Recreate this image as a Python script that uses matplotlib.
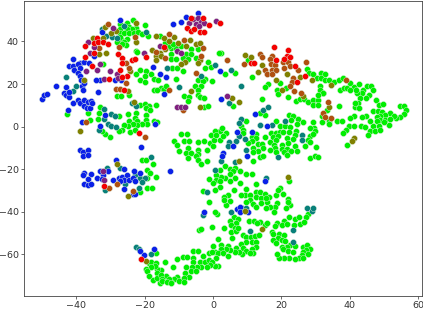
import matplotlib
matplotlib.use('Agg')
import numpy as np
import matplotlib.pyplot as plt

# t-SNE points, one list per colour
green = [(-42.6,6.1),(-36.7,6.4),(-33,9.3),(-33.3,6.4),(-36.1,3.3),(-33.7,3.8),(-27.4,4.9),(-24.9,6),(-22.6,6.4),(-22.8,3.9),(-24.6,2.8),(-22.3,2.7),(-21.4,10.4),(-20,10.8),(-18.7,9.9),(-16.7,10.4),(-19.5,8.8),(-18.5,7.7),(-19.5,5.6),(-19.5,3.3),(-17.3,2.8),(-16.3,2.4),(-19.2,1.3),(-20.8,1.1),(-22.2,0.8),(-23.4,1.3),(-25,0.5),(-26,1),(-26.6,-1.7),(-27.5,-2.2),(-24.3,-2.7),(-22.8,-1.7),(-30.2,-4.9),(-31.5,-3.6),(-32.4,-2.2),
    (-23.4,50),(-25.1,48.5),(-27.1,48),(-24.6,46.9),(-19.9,47.7),(-22.6,46.4),(-23.8,45.7),(-25.1,45.7),(-27.1,46),(-27.3,44.1),(-25.9,44.1),(-24.6,44.1),(-23.1,44.1),(-22,44.4),(-20.8,43.6),(-18.9,42.5),(-26.9,41),(-25.1,41),(-27.1,42.2),(-26,39.7),(-25.3,38.3),(-28,39.9),(-26.6,38.6),
    (-21.2,26.5),(-22.6,24.5),(-19.5,26),(-18.2,24.5),(-20,23.7),(-21.4,22.1),(-19.9,21),(-17.3,22.6),(-16.1,22.1),(-12,27.6),(-10.4,27.6),(-8.9,26),(-10.9,22.6),(-17.3,17.4),(-15.3,18.2),(-14.3,17.7),(-13.8,19.3),(-16.3,17),(-28,14.3),(-26.9,14.3),(-24.6,14.8),(-32.2,29.5),(-22.6,35.5),(-22.1,35),
    (-12.2,36.7),(-10.9,37),(-9.4,37.8),(-12.8,37.8),(-11.7,38.9),(-14.1,39.4),(-15.5,42.5),(-6.5,36.3),(-4.5,36.3),(-12.3,33.9),(-7.9,33.9),(-6.5,33.9),(-12.3,31.6),(-10.9,31.9),(-8.9,32.3),(-7.4,31.6),(-5,32.3),(-1.3,30.5),(-2.4,27.6),(-0.6,27.9),(-4.5,22.1),(-2.4,22.5),(-0.3,21.4),(-3,21.4),(-3.5,19.3),(-5.2,19),(-4.5,17.1),(-8.4,14.3),(-7,14),(-7.4,11.9),(-4.5,15.1),(-3.8,14),(-2.5,13.5),(-2.5,9.1),(-1.4,9.7),
    (-9.4,-3.5),(-11.4,-6.9),(-7.6,-3.5),(-0.6,-3.8),(-10.4,-8.5),(-8.4,-6.9),(-7,-6.9),(-4.5,-7.4),(-2.5,-6.9),(-1,-7.7),(-9.8,-11.6),(-7.4,-10),(-4.5,-10.8),(-1.6,-10.8),(-0.1,-9.3),(-7.9,-12.4),(-6.4,-12.4),(-4.5,-12.7),
    (2.3,34.7),(1.8,34.7),(3.4,24.8),(6.4,25),(11.3,23.4),(10.3,31.2),(19.7,20.6),(16.2,20.1),(15.2,18.5),(18.8,17.4),(21.3,18.2),(19.1,15.5),(22,14),(24.3,12.2),(25.5,13.2),(26.7,13),(27.9,11.5),(29.4,12.7),(30.9,12.7),(32.3,15.9),(29.4,10.4),(30.9,10.4),(14.4,13),(27.6,27.2),(28.2,25.3),(29.2,24.6),(30.4,22.9),(31.6,25),(32.8,24.5),(31.6,22.9),(32.8,22.1),(33.9,22.1),(35.5,21),(37,21.7),(38.2,22.9),(31.4,19.3),(31.4,17.4),(32.1,15.9),(30.9,15.1),(33.3,8),(34,2.5),(34,1.4),(31.9,4.9),(32,2),(29.4,2),(36.3,2.5),(37.8,2.5),(36.9,9.9),(37.2,17.1),(38.4,18.2),(39.2,18.2),(40.2,20.3),(41.2,18.7),(42.9,19.8),(43.9,17.4),(45.1,19.3),(46.3,19.3),(46.8,17.1),(45.6,15.1),(44.9,13.5),(43.6,15.9),(42.1,15.9),(41.9,17.4),(40.2,17.4),(43.1,13.5),(47.7,12.4),(48.5,10.4),(49.7,10.7),(41.5,9.3),(42.6,11.1),(41.7,11.1),(42.8,8.8),(46.8,7.2),(48.2,7.2),(49.5,6.9),(51.9,6.4),(54.9,9.9),(55.9,9.9),(56.6,7.7),(55.9,6),(54.9,4.6),(53.7,4.1),(52.9,5.2),(50.5,5.7),(49,4.9),(48,4.6),(49,3.3),(50.5,3.3),(51.9,3.6),(51.5,0.9),(48,2.5),(47,0.5),(48.5,0.2),(50,2),(46.1,2.5),(44.9,4.9),(43.5,4.6),(41.4,5.2),(40,4.1),(39.7,0.2),(39,-1.4),(38.2,-3),(41.2,0.5),(43.4,0.2),(44.6,-0.2),(46.1,-2.2),(45.3,-3.8),(47.5,-2.2),(48.8,-1.4),(39.2,-8.5),
    (9.8,2.5),(8.3,0.2),(8.8,-1.4),(8.8,-3),(12.7,-3.3),(11.5,-4.9),(15.2,-4.9),(18.6,2.5),(19.6,0.2),(21.1,0.5),(22.3,5.7),(23.5,4.9),(25,3.6),(26.5,2),(23,3),(24.5,1.4),(29.6,-0.6),(28.4,-0.6),(22.5,-0.2),(24.3,-2.2),(16.9,-3),(18.6,-3),(19.6,-2.7),(17.6,-4.9),(20.6,-2.7),(22.3,-2.7),(24,-3.8),(28.4,-4.6),(29.9,-2.2),(29.4,-3.5),(19.1,-4.6),(21.8,-5.3),(23.3,-5.8),(27.9,-6.1),(16.7,-7.4),(18.6,-6.1),(12.7,-5.3),(11.3,-6.9),(10.3,-7.7),(11.8,-10),(13.2,-8),(14.5,-8),(14.7,-10),(13.2,-11.6),(11.8,-12.1),(17.9,-8.8),(20.1,-8.5),(22,-7.7),(24,-9.3),(27,-9.3),(28.4,-7.4),(30.2,-9.6),(20.1,-10.4),(21.6,-10.4),(18.1,-10),(23,-11.6),(16.7,-11.1),(18.6,-12.1),(20.8,-12.1),(24.5,-11.6),(5.9,9.6),(15.2,5.7),(13.7,6.4),(2,-2.2),(3.7,-3),(0.5,-2.2),(2.7,-0.6),(0.3,-6.1),(2,-6.1),(2.9,-4.6),(1,-3.8),
    (13.7,-14.3),(14.7,-14),(21.6,-13.2),(28.4,-14.8),(29.9,-14),(30.7,-14.4),(11.8,-16.3),(2,-20.2),(3.4,-18.7),(4.9,-19.8),(6.4,-19.5),(7.8,-21),(5.9,-21),(4.9,-22.3),(9.8,-22.3),(11.3,-22.1),(22.3,-25.7),(12.7,-26.8),(7.8,-26.5),(6.4,-24.2),(3.4,-24.2),(2.5,-23.4),(1,-22.6),(1,-25),(2,-25.7),(4.9,-25.4),(0,-26.5),(2,-28.1),(0.5,-29.7),(6.1,-29.7),(4.4,-32),(9.8,-29.4),(9.3,-32),(8.3,-32),(10.8,-32),(12.5,-30.9),(13.9,-30.8),(15.2,-31.7),(16.5,-32.8),(18.4,-32.3),(19.6,-28.6),(19.1,-29.7),(20.6,-31.7),(12.7,-32.8),(14.2,-33.3),(15.7,-35.2),(15.5,-33.3),(14.2,-36),(10.8,-34.4),(11.6,-36.4),(12.5,-37.8),(9.8,-35.2),(3.1,-33.1),(5.1,-34.7),(3.7,-36.7),(3.2,-34.4),(22,-34),(22.7,-37),(22,-35.2),(21.4,-38.3),(18.8,-36),(18.1,-37.5),(16.7,-37.5),(15.5,-38),(17.9,-40.2),(1.2,-41.1),(0.5,-40.2),(24,-43.5),(25.2,-42.2),(27.9,-41.1),(27.2,-42.5),(22.3,-42.4),(20.9,-44.1),(18.8,-45.4),(18.1,-46.5),(20.1,-46.1),(21.6,-45.8),(23.8,-46.1),(25.5,-45.7),(26.7,-44.6),(6.1,-42.5),(7.4,-43.3),(4.9,-44.1),(6.9,-45.4),(10.5,-44.3),(12,-44.1),(13.9,-44.6),(13,-45.4),(15.2,-46.1),(15.7,-45.4),(3.1,-47.4),(5.4,-46.1),(6.4,-47.7),(5.4,-49.3),(6.9,-49),(7.4,-47.4),(5.7,-52.1),(8.8,-50.9),(9.8,-52),(11.1,-51.6),(12.3,-51.3),(13.5,-50.9),(9.8,-54.3),(11.3,-54.3),(12.7,-54.3),(12.7,-56.4),(1.5,-52.7),(0,-55.9),(2.5,-55.6),(4.4,-55.9),(6.7,-56.8),(8.3,-55.3),(8.8,-57.1),(9.8,-58.2),(11.3,-57.5),(11.8,-59.2),(10.8,-59.5),(8.6,-60),(7.6,-58.7),(6.4,-58.7),(4.9,-57.9),(3.9,-57.6),(2.5,-57.6),(0.5,-58.7),(1.5,-59.5),(2.9,-59.5),(4.4,-60.6),(0.8,-61.8),(1.5,-65.3),(0.5,-65.5),(17.2,-49.6),(17.6,-50.4),(19.4,-50.4),(20.8,-50.9),(19.1,-52.4),(17.6,-53.2),(20.1,-53.2),(18.6,-54.8),(21.1,-53.7),(22.5,-55.6),(24,-55.9),(21.6,-56.4),(20.1,-56.4),(20.6,-57.5),(22,-58.4),(23.5,-59),(26.3,-56.4),(27.6,-55.6),(28.4,-57.6),(27.2,-57.9),(26.3,-58.7),(27.9,-59.8),(26,-60.3),(25.3,-61.8),(24,-62.3),(26.5,-61.5),(22.3,-61.5),(20.8,-61.5),(19.3,-61.5),(18.8,-59.8),
    (-19.2,-20.2),(-16.8,-23.4),(-19.2,-23.9),(-18.5,-21.8),(-17.5,-17.6),(-21.4,-30.5),(-19.2,-28.6),(-17.8,-28.6),(-7.3,-14.7),(-5,-13.7),(-4.3,-15.5),(-3.5,-17.4),(-1.8,-16),(-1.1,-24.6),(-2.8,-30.1),(-1.1,-35.6),(-0.4,-46.9),(-4.2,-48.5),(-3.5,-48),(-16.6,-59.2),(-18.7,-64.2),(-18.2,-63.4),(-16.8,-64.2),(-14.1,-63.7),(-10.4,-62.3),(-8.9,-61.4),(-7.6,-61.4),(-5.8,-58.4),(-4.5,-58.4),(-3,-60.6),(-1.1,-59.2),(-0.3,-58.7),(-11.7,-66.1),(-8,-65.8),(-5.7,-61.8),(-5.7,-63.7),(-3.7,-63.7),(-2.4,-63.4),(-1.1,-62.6),(-0.4,-63.4),(-0.8,-65),(-1.8,-65.8),(-3.5,-65.8),(-4.7,-65.8),(-6,-66.1),(-6.3,-67.7),(-8.2,-68.9),(-5,-67.7),(-7,-70.5),(-8.4,-71),(-10.4,-70.5),(-11.4,-71.6),(-12.4,-72.8),(-9.9,-72.5),(-8.6,-72.8),(-13.8,-70),(-12.8,-71.3),(-15.3,-67.3),(-16.3,-66.6),(-17,-65.3),(-18.2,-65.8),(-19.7,-66.9),(-19.2,-67.8),(-18.7,-70),(-17.6,-72),(-16.3,-68.9),(-16.3,-71),(-15.3,-69.7),(-15,-71.3),(-15.6,-73.6),(-14.8,-72.5),(-13.5,-72.8),(-12.2,-73.3),(-20.9,-15.8),(-19.7,-15.5)]

teal = [(-41,16.6),(-40,19),(-43,23.4),(-31.9,8.2),(-29.8,6.1),(-28.7,4.9),(-32,3.6),(-33.4,-1.7),(-30.8,1.3),(-29.7,0.5),(-28.5,-0.3),(-23.8,11.1),(-22.6,9.9),(-25.9,47.2),(-19.7,44.6),(-31.2,42.5),(-29.5,42.1),(-28.2,41.8),(-32.4,46),(-13.4,27.5),(-3.5,23.7),(-9.9,18.7),(0.5,28.9),(5.2,26.4),(8.3,19.3),(4.7,11.1),(14.7,8),(16,9.3),(8.3,3.6),(7.6,1.7),(7.6,-4.6),(9.3,-5.7),(13.9,0.9),(17.4,0.9),(21.1,2.5),(26,-3.8),(26,-6.1),(4.7,-7.4),(4.4,-9.3),(6.9,-6.8),(9.8,-10.8),(2.5,-16),(6.4,-16.6),(19.1,-14.3),(0.5,-20.2),(15.5,-23.9),(8.6,-38),(9.8,-38.3),(5.4,-40.2),(27.4,-38.3),(28.9,-39.4),(29.2,-38.3),(23.3,-48.5),(10.8,-49),(23.3,-54.3),(-31,-19.5),(-27.1,-19.5),(-31.5,-29.5),(-25.6,-27),(-22.8,-22.6),(-21.2,-23.9),(-20,-23.9),(-21.7,-28.6),(-18.2,-14.4),(-1.6,-30.5),(-3,-41.6),(-22.4,-56.7),(-18,-60),(-21.7,-57.5),(-20.7,-26)]

blue = [(-49.9,13),(-49.3,14.8),(-48.7,15.4),(-45.9,19),(-43.1,18.4),(-43.7,16),(-43,15.1),(-42,14.1),(-42,16.2),(-38.3,19.3),(-38.1,17.4),(-33.6,16.5),(-41,11.1),(-39.6,12.7),(-38.8,11.1),(-37.6,12.7),(-36.7,11.5),(-35.7,11.9),(-42.5,7.9),(-37.8,9.9),(-36.9,8.6),(-35.9,8.8),(-35.4,11.1),(-38.3,2.4),(-33,0.2),(-31.5,5.7),(-17,1.4),(-21,-9.6),(-41.1,31.9),(-38.8,30),(-37.6,30.3),(-36.4,30),(-34.9,33.1),(-42.2,28.4),(-41.1,28.4),(-39.6,29.2),(-38.8,27.6),(-40.6,26.5),(-39.6,25.3),(-38.8,23.7),(-38.5,21.7),(-37.8,20.6),(-33,22.1),(-34.1,21.7),(-28.7,22.1),(-26.9,21.8),(-32.6,44.6),(-27.2,49.9),(-17.6,27.8),(-15.5,24.6),(-13.6,23.4),(-14.3,15.4),(-11.7,48),(-9.4,49.1),(-7.9,51.5),(-4.5,53.2),(2,26.2),(2.5,13),(12.4,6),(7,-2.7),(11.5,-2.5),(15.7,0.5),(5.9,-9.3),(2.9,-12.4),(2.6,-13.6),(10.1,-13.6),(15.2,-25.4),(7.1,-38.8),(8,-37.5),(7.8,-39.9),(10.3,-39.9),(-38.8,-10.8),(-38,-12.1),(-36.7,-11.1),(-38,-14),(-36.7,-13.2),(-28.5,-15.7),(-37.8,-21.8),(-35.6,-22.1),(-38,-22.6),(-33.9,-23.9),(-32.2,-22.9),(-36.7,-24.6),(-37.8,-27),(-36.7,-27.3),(-35.7,-27),(-32.5,-24.5),(-33,-21),(-30.8,-21),(-29.2,-25),(-27.6,-23.9),(-26.6,-23.4),(-25.1,-22.6),(-26.1,-25),(-24.6,-25),(-27.1,-25.7),(-25.9,-19.8),(-23.1,-21),(-23.4,-24.2),(-22.7,-25.7),(-21.2,-21.8),(-26.1,-29.4),(-23.4,-31.7),(-22.7,-31.7),(-12.6,-20.6),(-2.6,-39.9),(-21.2,-58.4),(-17.3,-57.6),(-20.2,-60.3)]

red = [(-33.9,41.4),(-34.9,39.4),(-33.6,39.7),(-32.1,39.7),(-30.6,38.6),(-37.3,38.1),(-34.7,34.7),(-37.3,32.8),(-35.4,28.4),(-27.8,33.9),(-26.6,32.3),(-26.6,30),(-23.6,31.1),(-22.7,31.6),(-27.1,26.5),(-25.1,23.7),(-26.6,23.2),(-30.4,22.5),(-25.9,17.4),(-19.5,32.8),(-14.3,37.5),(-21.7,-2.8),(-6.5,51.2),(-7.6,46.2),(-6.5,44.9),(-5.5,45.7),(-3.8,44.3),(-2.6,44.3),(-1.1,47.6),(-3,51.2),(2,48.8),(11,29.7),(12.1,29.8),(18,37.2),(22,35.9),(18.6,31.1),(21.6,33.4),(20.8,31.9),(22.7,32.8),(24.1,28.4),(27,23.7),(24.5,21),(-31.8,-27.8),(-21,-62.3)]

brown = [(-30.8,48),(-37.2,2.4),(-19.9,-4.7),(-22.8,42.1),(-28.5,17.9),(-27.1,17.7),(-25.3,20.6),(-24.6,27.6),(-25.3,30),(-27.5,37.5),(-33.3,36.9),(-12.8,43.3),(-8.4,40.7),(-3,37),(-16.8,35),(-13.9,32.3),(-3.5,33.1),(-5,25),(-13,17.4),(-8.9,7.7),(4.2,31.1),(9.2,29.4),(13.7,34.2),(14.5,32.7),(17.2,33.1),(16.7,31.6),(16.9,29.5),(18.3,28.9),(20.4,30.5),(22,30.3),(15.2,26.8),(17.2,26.8),(18.6,26.8),(20.8,27.6),(22.5,28.4),(25,26.8),(27.2,30.3),(15.7,24.5),(17.2,24.5),(23.5,22.9),(23.2,20.9),(22.5,19.3),(23.8,16.6),(25.8,15.9),(33.8,11.6),(32.3,6.4),(32.9,4.6),(34.5,4.1),(39,21.7),(-30.5,-28.6),(-28,-26.8),(-23.4,-30)]

olive = [(-38.8,-2.2),(-23,11.6),(-31.7,46.9),(-28.5,44.9),(-29.7,44.1),(-22.6,48.5),(-32.2,41.8),(-22.6,39.9),(-35.2,41.4),(-33.4,33.9),(-31.2,34.4),(-37.7,22.1),(-24.9,16.6),(-24.3,26),(-16.8,42.5),(-14.3,41.8),(-11.5,42.1),(-12.8,40.2),(-10.3,39.4),(-6.8,40.5),(-5,38.6),(-3.8,39.1),(-17.7,36),(-15.5,34.7),(-13.9,36.3),(-7.9,37.8),(-16.8,33.1),(-15.3,33.1),(-16.8,31.1),(-3.8,31.1),(-8.2,30.3),(-9.4,29.2),(-4.5,30),(-6.5,16.6),(-3.8,9.3),(9.5,33.6),(11.1,32.8),(13.2,25.7),(14.3,28.9),(21.8,24.5),(25.5,23.4),(18.4,22.1),(20.1,17.4),(26.3,14.3),(28.9,22.1),(34.6,19.6),(34.1,9.3),(41.4,-5.3),(40.7,-6.6),(5.7,13.5),(7.6,11.5),(7.6,-16.3),(22,-23.7),(9.3,-39.6),(14.4,-48),(-28,-17.4),(-24.9,-32.5),(-19.7,-63.1)]

purple = [(-36.6,39.7),(-34.7,37.4),(-29.3,46.5),(-36.1,34.7),(-33.2,29.2),(-37.1,26),(-33.9,26.8),(-30,26),(-28,24.5),(-31.8,22.6),(-27.7,22.9),(-15.5,37.8),(-10.6,35.5),(-9.4,34.7),(-20.2,34.7),(-10.6,9.4),(-9.4,9.3),(-8.1,9.1),(-7,48.8),(-5.7,50.4),(-4.5,51.2),(-3.5,49.1),(-5,48),(-2.5,48.8),(-4,47.3),(1,49.8),(4.2,14.6),(-31.8,-25),(-32.2,-21)]

groups = [(green, '#00ee00'), (teal, '#08807a'), (blue, '#0a20e8'), (olive, '#808000'),
          (brown, '#b05010'), (purple, '#802080'), (red, '#f40000')]

plt.rcParams['font.size'] = 6.8
fig = plt.figure(figsize=(4.23, 3.1), dpi=100)
ax = fig.add_axes([24/423, 14/310, 398/423, 295/310])
for pts, col in groups:
    pts = np.array(pts)
    ax.scatter(pts[:, 0], pts[:, 1], s=19, c=col, edgecolors='#dfeedf', linewidths=0.3)
ax.set_xlim(-55.3, 61.2)
ax.set_ylim(-79.5, 59)
ax.set_xticks([-40, -20, 0, 20, 40, 60])
ax.set_yticks([-60, -40, -20, 0, 20, 40])
ax.tick_params(length=2.3, width=0.5, pad=1.5, colors='#333333')
for s in ax.spines.values():
    s.set_linewidth(0.6)
    s.set_color('#444444')
fig.savefig('out.png', dpi=100)
